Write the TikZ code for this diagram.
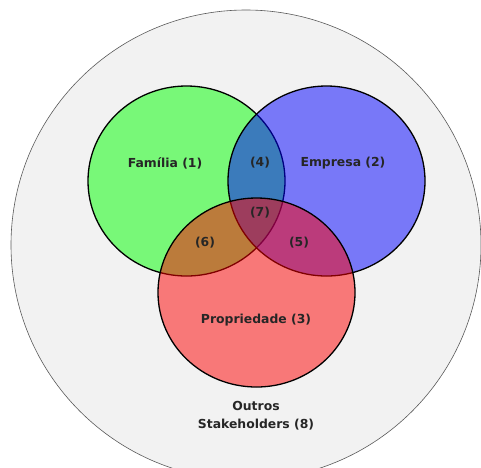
\documentclass[tikz,border=0pt]{standalone}
\usepackage{fontspec}
\setmainfont{DejaVu Sans}
\begin{document}
\begin{tikzpicture}[x=1pt,y=-1pt,
  setc/.style={draw=black,line width=1.3pt,fill opacity=0.5},
  lab/.style={font=\bfseries\fontsize{12.4}{18}\selectfont,text=black!85,inner sep=0pt,align=center}]
\useasboundingbox (0,0) rectangle (481,467);
\fill[white] (0,0) rectangle (481,467);
\path[fill={rgb,255:red,242;green,242;blue,242},draw={rgb,255:red,90;green,90;blue,90},line width=0.6pt] (246,245) circle[radius=235];
\path[setc,fill={rgb,255:red,0;green,255;blue,0}] (186.5,181) ellipse[x radius=98.5,y radius=95];
\path[setc,fill={rgb,255:red,0;green,0;blue,255}] (326.5,181) ellipse[x radius=98.5,y radius=95];
\path[setc,fill={rgb,255:red,255;green,0;blue,0}] (256.5,292.5) ellipse[x radius=98.5,y radius=94.5];
\node[lab] (fam) at (165,163) {Família (1)};
\node[lab] (emp) at (343,163) {Empresa (2)};
\node[lab] (pro) at (256,320) {Propriedade (3)};
\node[lab] (i4) at (260,163) {(4)};
\node[lab] (i7) at (260,213) {(7)};
\node[lab] (i6) at (205,243) {(6)};
\node[lab] (i5) at (299,243) {(5)};
\node[lab] (out) at (256,416) {Outros\\Stakeholders (8)};
\end{tikzpicture}
\end{document}
